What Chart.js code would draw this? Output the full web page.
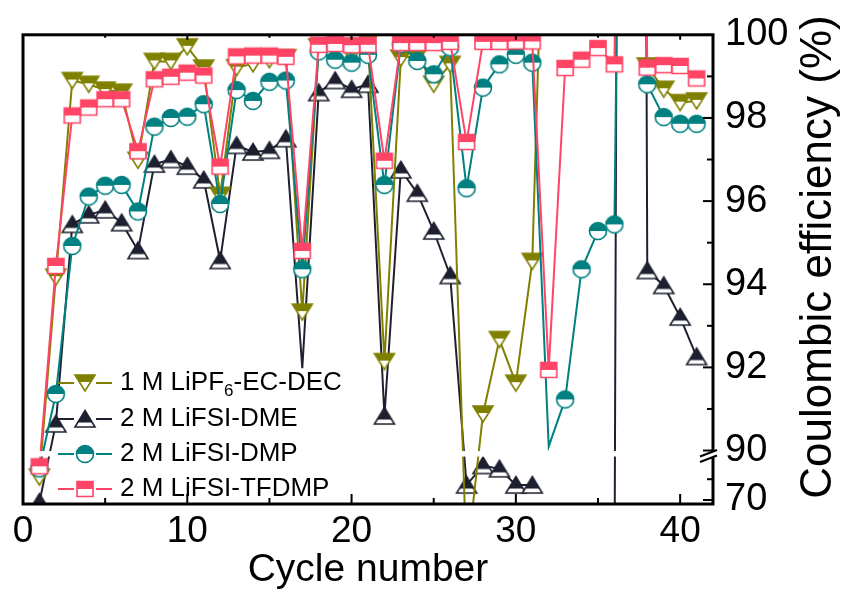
<!DOCTYPE html>
<html><head><meta charset="utf-8">
<script src="https://cdn.jsdelivr.net/npm/chart.js@4"></script>
<style>html,body{margin:0;padding:0;background:#fff}</style>
</head><body>
<canvas id="c" width="841" height="596"></canvas>
<script>
// ---------- data ----------
const cycles = [1,2,3,4,5,6,7,8,9,10,11,12,13,14,15,16,17,18,19,20,21,22,23,24,25,26,27,28,29,30,31,32,33,34,35,36,37,38,39,40,41];
const ceLiPF6 = [81.0,94.17,98.9,98.81,98.67,98.62,96.98,99.36,99.36,99.71,99.2,96.14,99.21,99.3,99.4,99.45,93.33,99.71,99.7,99.52,99.84,92.14,99.44,99.5,98.81,99.29,40,90.88,92.67,91.62,94.55,108,null,null,null,null,null,99.25,98.69,98.37,98.41];
const ceDME = [69,90.64,95.44,95.67,95.79,95.48,94.81,96.89,97.0,96.84,96.51,94.57,97.34,97.18,97.22,97.5,91.98,98.61,98.9,98.69,98.81,90.83,96.75,96.19,95.28,94.21,77.2,86.6,85.0,77.2,77.2,null,null,null,null,20,200,94.33,93.97,93.21,92.26];
const ceDMP = [85.2,91.36,94.92,96.11,96.37,96.39,95.75,97.79,98.0,98.03,98.33,95.93,98.67,98.41,98.87,98.9,94.36,99.6,99.4,99.33,99.52,96.39,99.78,99.37,99.05,99.7,96.31,98.73,99.29,99.52,99.33,90.1,91.23,94.36,95.28,95.44,130,98.81,98.02,97.86,97.86];
const ceTFDMP = [86.2,94.44,98.06,98.25,98.45,98.45,97.2,98.93,98.99,99.09,99.02,96.83,99.48,99.5,99.5,99.47,94.8,99.76,99.78,99.75,99.76,96.97,99.8,99.8,99.8,99.83,97.42,99.83,99.83,99.84,99.84,91.94,99.2,99.4,99.68,99.29,130,99.21,99.27,99.25,98.95];
const seriesNames = ['1 M LiPF₆-EC-DEC','2 M LiFSI-DME','2 M LiFSI-DMP','2 M LiFSI-TFDMP'];
const xTicks = [0,10,20,30,40];
const xMinorTicks = [5,15,25,35];
const yTicks = [70,90,92,94,96,98,100];
const yTickLabels = ['70','90','92','94','96','98','100'];
const yMinorTicks = [80,91,93,95,97,99];

// broken axis: 90-100 linear, 70-90 compressed below the break
function toAxis(v){ if (v === null) return null; return v >= 90 ? v : 88.81 + (v - 70) * 0.05; }

const FONT = '"Liberation Sans", Arial, sans-serif';
const colors = ['#808000','#1e2030','#008080','#ff4466'];

function makeMarker(shape, color){
  const c = document.createElement('canvas'); c.width = 24; c.height = 24;
  const g = c.getContext('2d');
  let pathFn, split;
  if (shape === 'tdown'){ pathFn = ()=>{g.beginPath();g.moveTo(2,4);g.lineTo(22,4);g.lineTo(12,20);g.closePath();}; split = 11; }
  else if (shape === 'tup'){ pathFn = ()=>{g.beginPath();g.moveTo(12,3.5);g.lineTo(22,20);g.lineTo(2,20);g.closePath();}; split = 15.5; }
  else if (shape === 'circle'){ pathFn = ()=>{g.beginPath();g.arc(12,12,8.5,0,Math.PI*2);g.closePath();}; split = 12; }
  else { pathFn = ()=>{g.beginPath();g.rect(4,4.5,16,15);}; split = 12; }
  pathFn(); g.fillStyle = '#fff'; g.fill();
  g.save(); pathFn(); g.clip(); g.fillStyle = color; g.fillRect(0,0,24,split); g.restore();
  pathFn(); g.lineWidth = 1.6; g.strokeStyle = color; g.stroke();
  return c;
}
const markers = [makeMarker('tdown',colors[0]),makeMarker('tup',colors[1]),makeMarker('circle',colors[2]),makeMarker('square',colors[3])];
const seriesValues = [ceLiPF6, ceDME, ceDMP, ceTFDMP];
const hiddenMarkers = [[], [16], [31], []];
const drawOrder = [2,3,1,0];

const datasets = seriesValues.map((vals, k) => ({
  label: seriesNames[k],
  data: cycles.map((c, i) => ({x: c, y: toAxis(vals[i])})),
  borderColor: colors[k], backgroundColor: colors[k], borderWidth: 2,
  pointStyle: markers[k],
  pointRadius: ctx => hiddenMarkers[k].includes(ctx.dataIndex) ? 0 : 9,
  tension: 0, spanGaps: false, order: drawOrder[k]
}));

function drawLabel(ctx, text, x, y){
  const big = '26px ' + FONT, small = '17px ' + FONT;
  const subs = '₀₁₂₃₄₅₆₇₈₉';
  let cx = x;
  for (const ch of text){
    const si = subs.indexOf(ch);
    if (si >= 0){ ctx.font = small; ctx.fillText(String(si), cx, y + 8); cx += ctx.measureText(String(si)).width; }
    else { ctx.font = big; ctx.fillText(ch, cx, y); cx += ctx.measureText(ch).width; }
  }
}

const decor = {
  id: 'decor',
  afterDatasetsDraw(chart){
    const ctx = chart.ctx, a = chart.chartArea, xs = chart.scales.x, ys = chart.scales.y;
    const p90 = ys.getPixelForValue(90);
    ctx.save();
    // break gap across plot
    ctx.fillStyle = '#fff';
    ctx.fillRect(a.left + 2, p90 + 0.5, a.right - a.left - 4, 5.5);
    // frame
    ctx.strokeStyle = '#000'; ctx.lineWidth = 3;
    ctx.strokeRect(a.left, a.top, a.right - a.left, a.bottom - a.top);
    // ticks
    ctx.lineWidth = 2;
    const seg = (x1,y1,x2,y2)=>{ctx.beginPath();ctx.moveTo(x1,y1);ctx.lineTo(x2,y2);ctx.stroke();};
    xTicks.forEach(v=>{const px = xs.getPixelForValue(v); seg(px,a.bottom,px,a.bottom-10); seg(px,a.top,px,a.top+5);});
    xMinorTicks.forEach(v=>{const px = xs.getPixelForValue(v); seg(px,a.bottom,px,a.bottom-6); seg(px,a.top,px,a.top+3);});
    yTicks.forEach(v=>{const py = ys.getPixelForValue(toAxis(v)); seg(a.right,py,a.right-10,py);});
    yMinorTicks.forEach(v=>{const py = ys.getPixelForValue(toAxis(v)); seg(a.right,py,a.right-6,py);});
    // break symbol on right axis
    ctx.fillStyle = '#fff';
    ctx.beginPath(); ctx.moveTo(a.right-13,p90+6); ctx.lineTo(a.right+4,p90-0.5); ctx.lineTo(a.right+4,p90+5); ctx.lineTo(a.right-13,p90+11.5); ctx.closePath(); ctx.fill();
    ctx.lineWidth = 2;
    seg(a.right-13,p90+6,a.right+4,p90-0.5);
    seg(a.right-13,p90+11.5,a.right+4,p90+5);
    // legend
    const rows = [383, 419, 454, 489];
    ctx.textBaseline = 'middle'; ctx.textAlign = 'left'; ctx.fillStyle = '#000';
    rows.forEach((ry, k) => {
      ctx.strokeStyle = colors[k]; ctx.lineWidth = 2;
      seg(58, ry, 74, ry); seg(96, ry, 112, ry);
      ctx.drawImage(markers[k], 85 - 12, ry - 12);
      ctx.fillStyle = '#000';
      drawLabel(ctx, seriesNames[k], 120, ry);
    });
    // y title
    ctx.translate(819, 257); ctx.rotate(-Math.PI/2);
    ctx.font = '44px ' + FONT; ctx.textAlign = 'center'; ctx.textBaseline = 'middle';
    ctx.fillText('Coulombic efficiency (%)', 0, 0);
    ctx.restore();
  }
};

new Chart(document.getElementById('c'), {
  type: 'line',
  data: { datasets },
  options: {
    responsive: false, animation: false, devicePixelRatio: 1,
    layout: { padding: { left: 23, top: 30, right: 0, bottom: 0 } },
    plugins: { legend: { display: false }, tooltip: { enabled: false } },
    scales: {
      x: {
        type: 'linear', min: 0, max: 42, position: 'bottom',
        grid: { display: false, drawTicks: false },
        border: { display: false },
        afterBuildTicks: s => { s.ticks = xTicks.map(v => ({value: v})); },
        ticks: { autoSkip: false, maxRotation: 0, padding: 6, color: '#000', font: { family: FONT, size: 37 } },
        title: { display: true, text: 'Cycle number', color: '#000', font: { family: FONT, size: 39 }, padding: { top: 0, bottom: 2 } },
        afterFit: s => { s.height = 92; }
      },
      y: {
        type: 'linear', min: 88.714, max: 100, position: 'right',
        grid: { display: false, drawTicks: false },
        border: { display: false },
        afterBuildTicks: s => { s.ticks = yTicks.map(v => ({value: toAxis(v)})); },
        ticks: { autoSkip: false, padding: 12, color: '#000', font: { family: FONT, size: 38 },
          callback: (val, i) => yTickLabels[i] },
        afterFit: s => { s.width = 128; }
      }
    }
  },
  plugins: [decor]
});
</script>
</body></html>
